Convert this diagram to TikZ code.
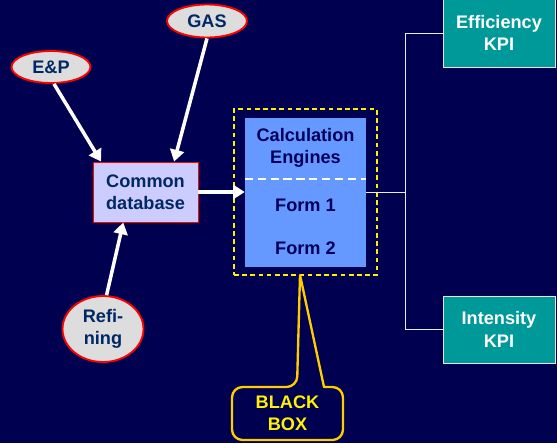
\documentclass[tikz,border=0pt]{standalone}
\usepackage{fontspec}
\setmainfont{Liberation Sans}
\usetikzlibrary{shapes.geometric,arrows.meta,calc}

\definecolor{navybg}{RGB}{0,0,80}
\definecolor{darktext}{RGB}{0,40,100}
\definecolor{calctext}{RGB}{0,0,90}
\definecolor{ovalfill}{RGB}{221,221,221}
\definecolor{dbfill}{RGB}{204,204,255}
\definecolor{calcfill}{RGB}{102,153,255}
\definecolor{kpifill}{RGB}{0,153,153}
\definecolor{calloutline}{RGB}{255,204,0}

\tikzset{
  bigbold/.style={font=\fontsize{15.5}{19}\selectfont\bfseries},
  source/.style={ellipse,draw=red,line width=1.6pt,fill=ovalfill,text=darktext,
    bigbold,align=center,inner sep=0pt},
  feed/.style={draw=white,line width=3pt,-{Triangle[length=10pt,width=12pt]}},
  kpi/.style={rectangle,draw=white!80!gray,line width=0.8pt,fill=kpifill,text=white,
    minimum width=3.36cm,bigbold,align=center},
  link/.style={draw=white!85!gray,line width=0.8pt}
}

\begin{document}
\begin{tikzpicture}[x=0.03cm,y=-0.03cm]
    \useasboundingbox (0,0) rectangle (557,443);
    \clip (0,0) rectangle (557,443);
    \fill[navybg] (0,0) rectangle (557,443);

    % data sources
    \node[source,minimum width=2.37cm,minimum height=0.96cm] (ep) at (51,67) {E\&P};
    \node[source,minimum width=2.4cm,minimum height=0.99cm] (gas) at (207,21) {GAS};
    \node[source,minimum width=2.43cm,minimum height=1.98cm] (ref) at (103,329) {Refi-\\ning};

    % common database
    \node[rectangle,draw=red,line width=0.8pt,fill=dbfill,text=darktext,
      minimum width=3.15cm,minimum height=1.8cm,align=center,bigbold] (db) at (145.5,192) {Common\\database};

    % black box frame and calculation engines
    \node[rectangle,draw=yellow,line width=1.5pt,dash pattern=on 4pt off 3pt,
      minimum width=4.29cm,minimum height=4.98cm] (frame) at (305.5,192) {};
    \node[rectangle,fill=calcfill,minimum width=3.63cm,minimum height=4.47cm] (calc) at (305.5,192.5) {};
    \coordinate (cutl) at (calc.west |- 0,179);
    \coordinate (cutr) at (calc.east |- 0,179);
    \draw[white,line width=1.5pt,dash pattern=on 7pt off 4pt] (cutl) -- (cutr);
    \node[text=calctext,align=center,bigbold] (engines) at (305.5,148) {Calculation\\Engines};
    \node[text=calctext,bigbold] (form1) at (305.5,205) {Form 1};
    \node[text=calctext,bigbold] (form2) at (305.5,248) {Form 2};

    % feeds into the database and on to the engines
    \draw[feed] (ep.-80) -- ($(db.north west)!0.08!(db.north east)$);
    \draw[feed] (gas.south) -- ($(db.north west)!0.77!(db.north east)$);
    \draw[feed] (ref.84) -- ($(db.south west)!0.29!(db.south east)$);
    \draw[feed] (db.east |- 0,192) -- (calc.west |- 0,192);

    % KPI outputs
    \node[kpi,minimum height=2.04cm] (eff) at (499,33) {Efficiency\\KPI};
    \node[kpi,minimum height=2.01cm] (int) at (499,329.5) {Intensity\\KPI};
    \coordinate (split) at (405,192);
    \draw[link] (calc.east |- split) -- (split);
    \draw[link] (split) |- (eff.west);
    \draw[link] (split) |- (int.west);

    % black box callout
    \node[text=yellow,align=center,bigbold] (bb) at (287.5,413.5) {BLACK\\BOX};
    \coordinate (tip) at (300,275);
    \draw[calloutline,line width=2pt,line join=round]
      (tip) -- (324,387) [rounded corners=9pt] -- (343,387) -- (343,440) -- (232,440) -- (232,387) -- (297,387) [sharp corners] -- cycle;
\end{tikzpicture}
\end{document}
